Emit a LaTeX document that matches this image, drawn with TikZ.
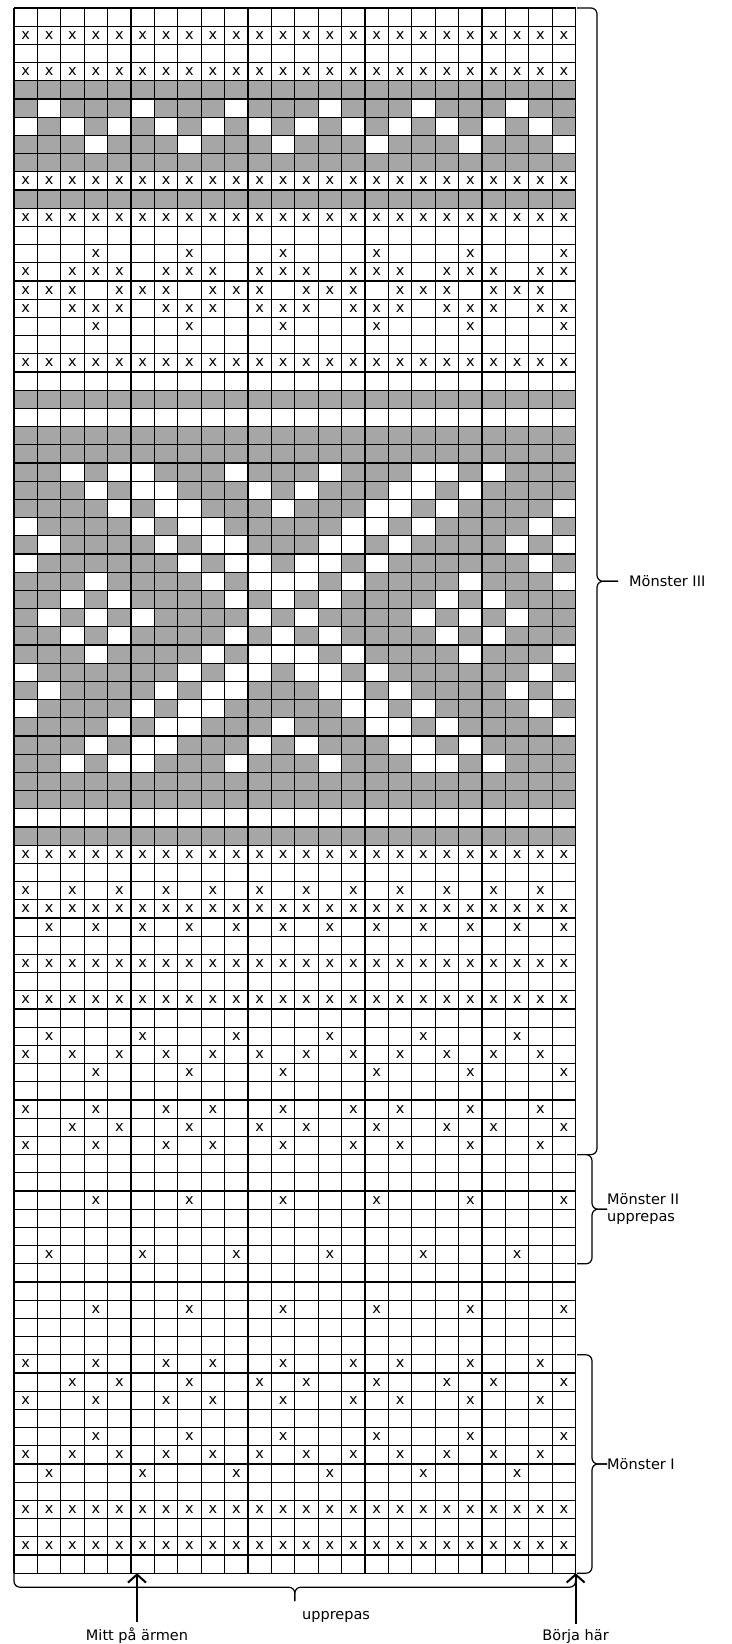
\documentclass[tikz,border=0pt]{standalone}
\usepackage{fontspec}
\setmainfont{DejaVu Sans}
\usetikzlibrary{arrows.meta, positioning, calc}
\definecolor{cellGray}{HTML}{A6A6A6}
\newcommand{\gridX}{14}
\newcommand{\gridY}{8}
\newcommand{\cellW}{23.4}
\newcommand{\rowH}{18.2}
\tikzset{
  gridLine/.style={line width=1.3pt, black},
  xMark/.style={inner sep=0pt, font=\fontsize{14.5}{15}\selectfont},
  braceLine/.style={line width=1.2pt, rounded corners=6pt},
  arrowUp/.style={-{Straight Barb[length=8pt, width=18pt]}, line width=2pt},
  labelT/.style={inner sep=0pt, align=left, font=\fontsize{14.5}{17}\selectfont},
}
\newcommand{\grayRow}[1]{%
  \fill[cellGray] ({\gridX},{\gridY+(#1-1)*\rowH}) rectangle ({\gridX+24*\cellW},{\gridY+#1*\rowH});}
\newcommand{\whiteCells}[2]{%
  \foreach \c in {#2}
    {\fill[white] ({\gridX+(\c-1)*\cellW},{\gridY+(#1-1)*\rowH}) rectangle ++(\cellW,\rowH);}}
\newcommand{\xCells}[2]{%
  \foreach \c in {#2}
    {\node[xMark] (x-#1-\c) at ({\gridX+(\c-0.5)*\cellW},{\gridY+(#1-0.5)*\rowH}) {x};}}
\begin{document}
\begin{tikzpicture}[x=1pt, y=-1pt]
  \useasboundingbox (0,0) rectangle (731,1644);
  % gray rows
  \foreach \r in {5,6,7,8,9,11,22,24,25,...,44,46} {\grayRow{\r}}
  % light cells in the gray rows
  \whiteCells{6}{2,6,...,22}
  \whiteCells{7}{1,3,...,23}
  \whiteCells{8}{4,8,...,24}
  \whiteCells{26}{3,5,6,10,14,18,19,21}
  \whiteCells{27}{4,6,7,11,13,17,18,20}
  \whiteCells{28}{5,7,8,12,16,17,19,24}
  \whiteCells{29}{1,6,8,9,15,16,18,23}
  \whiteCells{30}{2,7,9,10,14,15,17,22,24}
  \whiteCells{31}{1,8,10,11,13,14,16,23}
  \whiteCells{32}{4,9,11,12,13,15,20,24}
  \whiteCells{33}{3,5,10,12,14,19,21}
  \whiteCells{34}{2,4,6,11,13,18,20,22}
  \whiteCells{35}{3,5,10,12,14,19,21}
  \whiteCells{36}{4,9,11,12,13,15,20,24}
  \whiteCells{37}{1,8,10,11,13,14,16,23}
  \whiteCells{38}{2,7,9,10,14,15,17,22,24}
  \whiteCells{39}{1,6,8,9,15,16,18,23}
  \whiteCells{40}{5,7,8,12,16,17,19,24}
  \whiteCells{41}{4,6,7,11,13,17,18,20}
  \whiteCells{42}{3,5,6,10,14,18,19,21}
  % x marks
  \foreach \r in {2,4,10,12,20,47,50,53,55,83,85} {\xCells{\r}{1,...,24}}
  \foreach \r in {14,18,59,66,72,79} {\xCells{\r}{4,8,...,24}}
  \foreach \r in {15,17} {\xCells{\r}{1,3,4,5,7,8,9,11,12,13,15,16,17,19,20,21,23,24}}
  \xCells{16}{1,2,3,5,6,7,9,10,11,13,14,15,17,18,19,21,22,23}
  \foreach \r in {49,58,80} {\xCells{\r}{1,3,...,23}}
  \xCells{51}{2,4,...,24}
  \foreach \r in {57,69,81} {\xCells{\r}{2,6,...,22}}
  \foreach \r in {61,63,75,77} {\xCells{\r}{1,4,7,9,12,15,17,20,23}}
  \foreach \r in {62,76} {\xCells{\r}{3,5,8,11,13,16,19,21,24}}
  % grid
  \foreach \c in {0,...,24}
    {\draw[gridLine] ({\gridX+\c*\cellW},{\gridY}) -- ({\gridX+\c*\cellW},{\gridY+86*\rowH});}
  \foreach \r in {0,...,86}
    {\draw[gridLine] ({\gridX},{\gridY+\r*\rowH}) -- ({\gridX+24*\cellW},{\gridY+\r*\rowH});}
  % braces on the right
  \coordinate (m3top) at (577,8);
  \coordinate (m3bot) at (577,1154.6);
  \coordinate (m3tip) at (618,581.3);
  \draw[braceLine] (m3top) -- ++(20,0) |- (m3tip);
  \draw[braceLine] (m3bot) -- ++(20,0) |- (m3tip);
  \node[labelT, anchor=west] (m3lab) at (629,581.3) {Mönster III};
  \coordinate (m2top) at (577,1154.6);
  \coordinate (m2bot) at (577,1263.8);
  \coordinate (m2tip) at (607,1209.2);
  \draw[braceLine] (m2top) -- ++(15,0) |- (m2tip);
  \draw[braceLine] (m2bot) -- ++(15,0) |- (m2tip);
  \node[labelT, anchor=west] (m2lab) at (607,1209.2) {Mönster II\\upprepas};
  \coordinate (m1top) at (577,1354.8);
  \coordinate (m1bot) at (577,1573.2);
  \coordinate (m1tip) at (607,1464);
  \draw[braceLine] (m1top) -- ++(15,0) |- (m1tip);
  \draw[braceLine] (m1bot) -- ++(15,0) |- (m1tip);
  \node[labelT, anchor=west] (m1lab) at (607,1464) {Mönster I};
  % brace and arrows below
  \coordinate (repL) at (14,1573.2);
  \coordinate (repR) at (575.6,1573.2);
  \coordinate (repTip) at (294.8,1601);
  \draw[braceLine] (repL) -- ++(0,14) -| (repTip);
  \draw[braceLine] (repR) -- ++(0,14) -| (repTip);
  \node[labelT, anchor=west] (replab) at (302,1617) {upprepas};
  \node[labelT, anchor=base] (mitt) at (137,1640) {Mitt på ärmen};
  \node[labelT, anchor=base] (borja) at (575.6,1640) {Börja här};
  \coordinate (mittTip) at (137,1573.2);
  \coordinate (borjaTip) at (575.6,1573.2);
  \draw[arrowUp] (mitt.north) ++(0,-5) -- (mittTip);
  \draw[arrowUp] (borja.north) ++(0,-5) -- (borjaTip);
\end{tikzpicture}
\end{document}
